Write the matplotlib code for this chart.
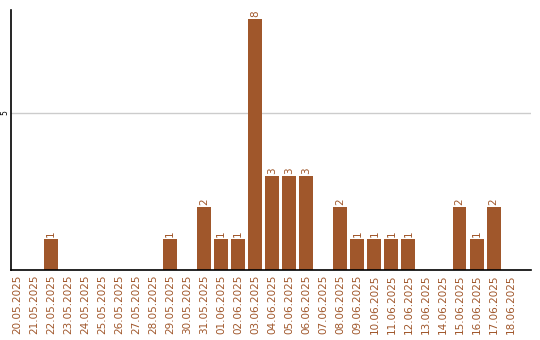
import matplotlib
matplotlib.use("Agg")
import matplotlib.pyplot as plt
import numpy as np

DATES = ["20.05.2025", "21.05.2025", "22.05.2025", "23.05.2025", "24.05.2025",
         "25.05.2025", "26.05.2025", "27.05.2025", "28.05.2025", "29.05.2025",
         "30.05.2025", "31.05.2025", "01.06.2025", "02.06.2025", "03.06.2025",
         "04.06.2025", "05.06.2025", "06.06.2025", "07.06.2025", "08.06.2025",
         "09.06.2025", "10.06.2025", "11.06.2025", "12.06.2025", "13.06.2025",
         "14.06.2025", "15.06.2025", "16.06.2025", "17.06.2025", "18.06.2025"]
COUNTS = [0, 0, 1, 0, 0, 0, 0, 0, 0, 1,
          0, 2, 1, 1, 8, 3, 3, 3, 0, 2,
          1, 1, 1, 1, 0, 0, 2, 1, 2, 0]

BROWN = "#a0572b"

fig = plt.figure(figsize=(5.4, 3.4), dpi=100)
ax = fig.add_axes([11 / 540, 1 - 270 / 340, 520 / 540, 260 / 340])

x = np.arange(len(DATES))
ax.bar(x, COUNTS, width=0.82, color=BROWN, zorder=2)
for xi, c in zip(x, COUNTS):
    if c > 0:
        ax.text(xi, c + 0.06, str(c), rotation=90, ha="center", va="bottom",
                fontsize=7.5, color=BROWN)

ax.set_xlim(-0.35, 30.2)
ax.set_ylim(0, 8.28)
ax.set_yticks([5])
ax.set_yticklabels(["5"], rotation=90, fontsize=5.5, va="center")
ax.yaxis.grid(True, color="#cccccc", lw=1, zorder=0)
ax.set_xticks(x)
ax.set_xticklabels(DATES, rotation=90, fontsize=7.5, color=BROWN)
ax.tick_params(axis="x", length=0, pad=3)
ax.tick_params(axis="y", length=0, pad=1.5)
ax.spines["top"].set_visible(False)
ax.spines["right"].set_visible(False)
ax.spines["left"].set_linewidth(1.2)
ax.spines["bottom"].set_linewidth(1.2)

fig.savefig("out.png", dpi=100)
